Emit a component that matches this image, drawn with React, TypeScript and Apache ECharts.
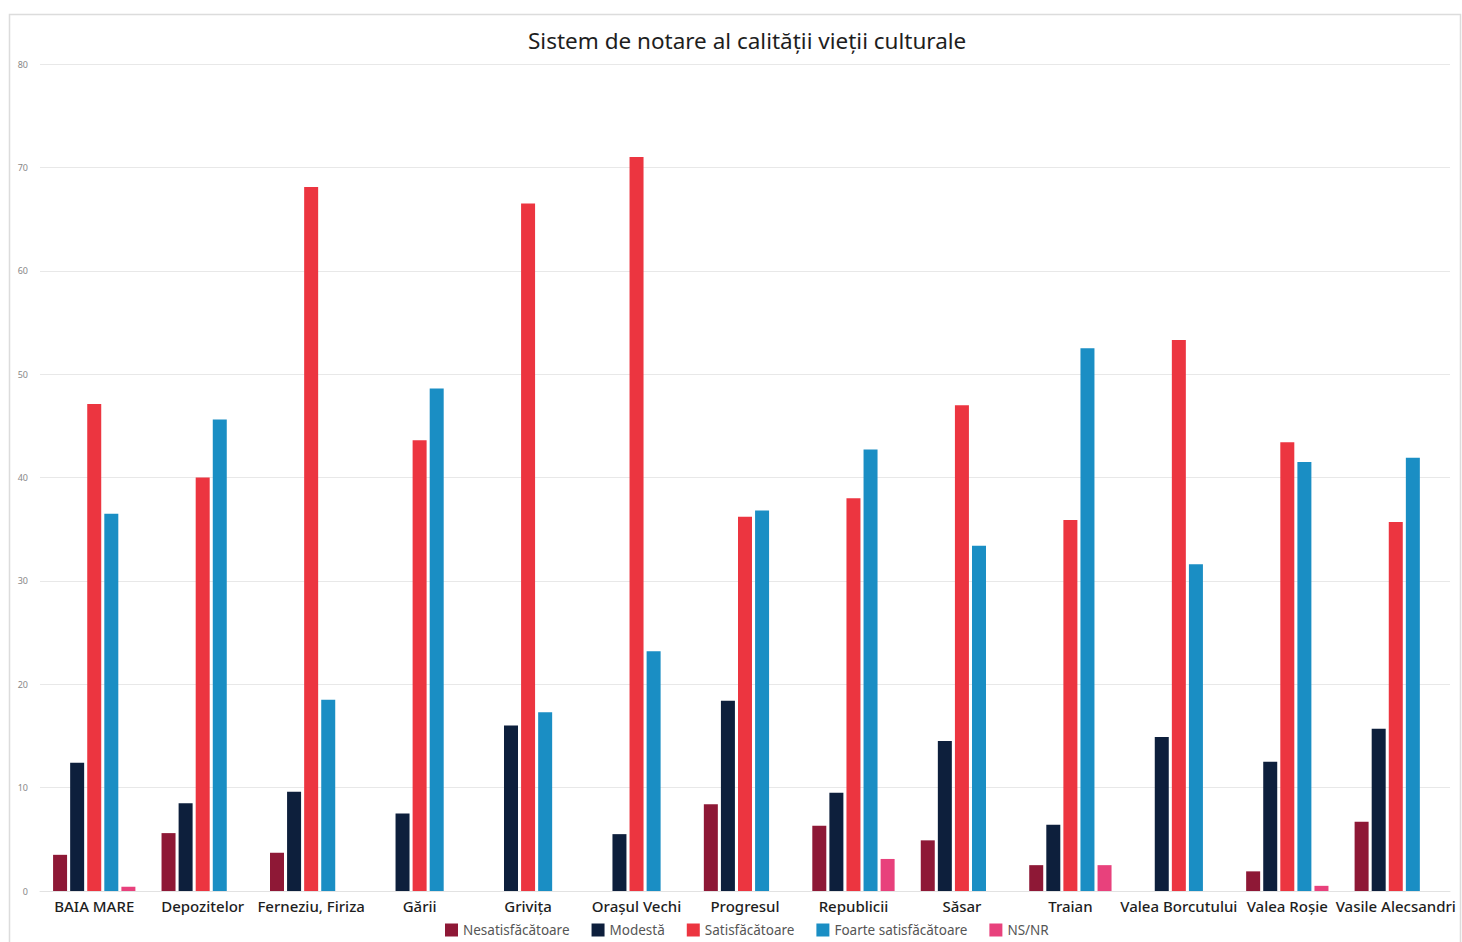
import React, { useEffect, useRef } from "react";
import * as echarts from "echarts";

const categories = [
  "BAIA MARE",
  "Depozitelor",
  "Ferneziu, Firiza",
  "Gării",
  "Grivița",
  "Orașul Vechi",
  "Progresul",
  "Republicii",
  "Săsar",
  "Traian",
  "Valea Borcutului",
  "Valea Roșie",
  "Vasile Alecsandri",
];

const nesatisfacatoare = [3.5, 5.6, 3.7, null, null, null, 8.4, 6.3, 4.9, 2.5, null, 1.9, 6.7];
const modesta = [12.4, 8.5, 9.6, 7.5, 16.0, 5.5, 18.4, 9.5, 14.5, 6.4, 14.9, 12.5, 15.7];
const satisfacatoare = [47.1, 40.0, 68.1, 43.6, 66.5, 71.0, 36.2, 38.0, 47.0, 35.9, 53.3, 43.4, 35.7];
const foarteSatisfacatoare = [36.5, 45.6, 18.5, 48.6, 17.3, 23.2, 36.8, 42.7, 33.4, 52.5, 31.6, 41.5, 41.9];
const nsNr = [0.4, null, null, null, null, null, null, 3.1, null, 2.5, null, 0.5, null];

const seriesDefs = [
  { name: "Nesatisfăcătoare", data: nesatisfacatoare, color: "#8e1836" },
  { name: "Modestă", data: modesta, color: "#0d1f3c" },
  { name: "Satisfăcătoare", data: satisfacatoare, color: "#ec3540" },
  { name: "Foarte satisfăcătoare", data: foarteSatisfacatoare, color: "#1a8ec4" },
  { name: "NS/NR", data: nsNr, color: "#e8417c" },
];

export default function App() {
  const ref = useRef<HTMLDivElement>(null);

  useEffect(() => {
    if (!ref.current) return;
    const chart = echarts.init(ref.current, undefined, { renderer: "svg" });
    chart.setOption({
      animation: false,
      backgroundColor: "#ffffff",
      title: {
        text: "Sistem de notare al calității vieții culturale",
        left: 523,
        top: 24,
        textStyle: {
          fontFamily: "Noto Sans",
          fontSize: 22.5,
          fontWeight: "normal",
          color: "#1e1e1e",
        },
      },
      graphic: [
        {
          type: "rect",
          shape: { x: 9.5, y: 14.5, width: 1451, height: 940 },
          style: { fill: "none", stroke: "#dcdcdc", lineWidth: 1.5 },
          silent: true,
        },
      ],
      legend: {
        bottom: 0,
        left: 440,
        itemWidth: 13,
        itemHeight: 13,
        itemGap: 22,
        icon: "rect",
        textStyle: { fontFamily: "Noto Sans", fontSize: 13.5, color: "#555" },
        data: seriesDefs.map((s) => s.name),
      },
      grid: { left: 40, right: 12, top: 64, bottom: 51, containLabel: false },
      xAxis: {
        type: "category",
        data: categories,
        axisTick: { show: false },
        axisLine: { lineStyle: { color: "#e2e2e2" } },
        axisLabel: {
          interval: 0,
          margin: 7,
          fontFamily: "Noto Sans",
          fontSize: 15,
          fontWeight: 500,
          color: "#1e1e1e",
        },
      },
      yAxis: {
        type: "value",
        min: 0,
        max: 80,
        interval: 10,
        axisLabel: { fontFamily: "Noto Sans", fontSize: 9, color: "#888", margin: 12 },
        splitLine: { lineStyle: { color: "#e8e8e8" } },
        axisLine: { show: false },
        axisTick: { show: false },
      },
      series: seriesDefs.map((s) => ({
        name: s.name,
        type: "bar",
        data: s.data,
        barWidth: 14,
        barGap: "22%",
        itemStyle: { color: s.color },
      })),
    });
    return () => chart.dispose();
  }, []);

  return (
    <div
      ref={ref}
      style={{ position: "fixed", left: 0, top: 0, width: 1462, height: 942 }}
    />
  );
}
